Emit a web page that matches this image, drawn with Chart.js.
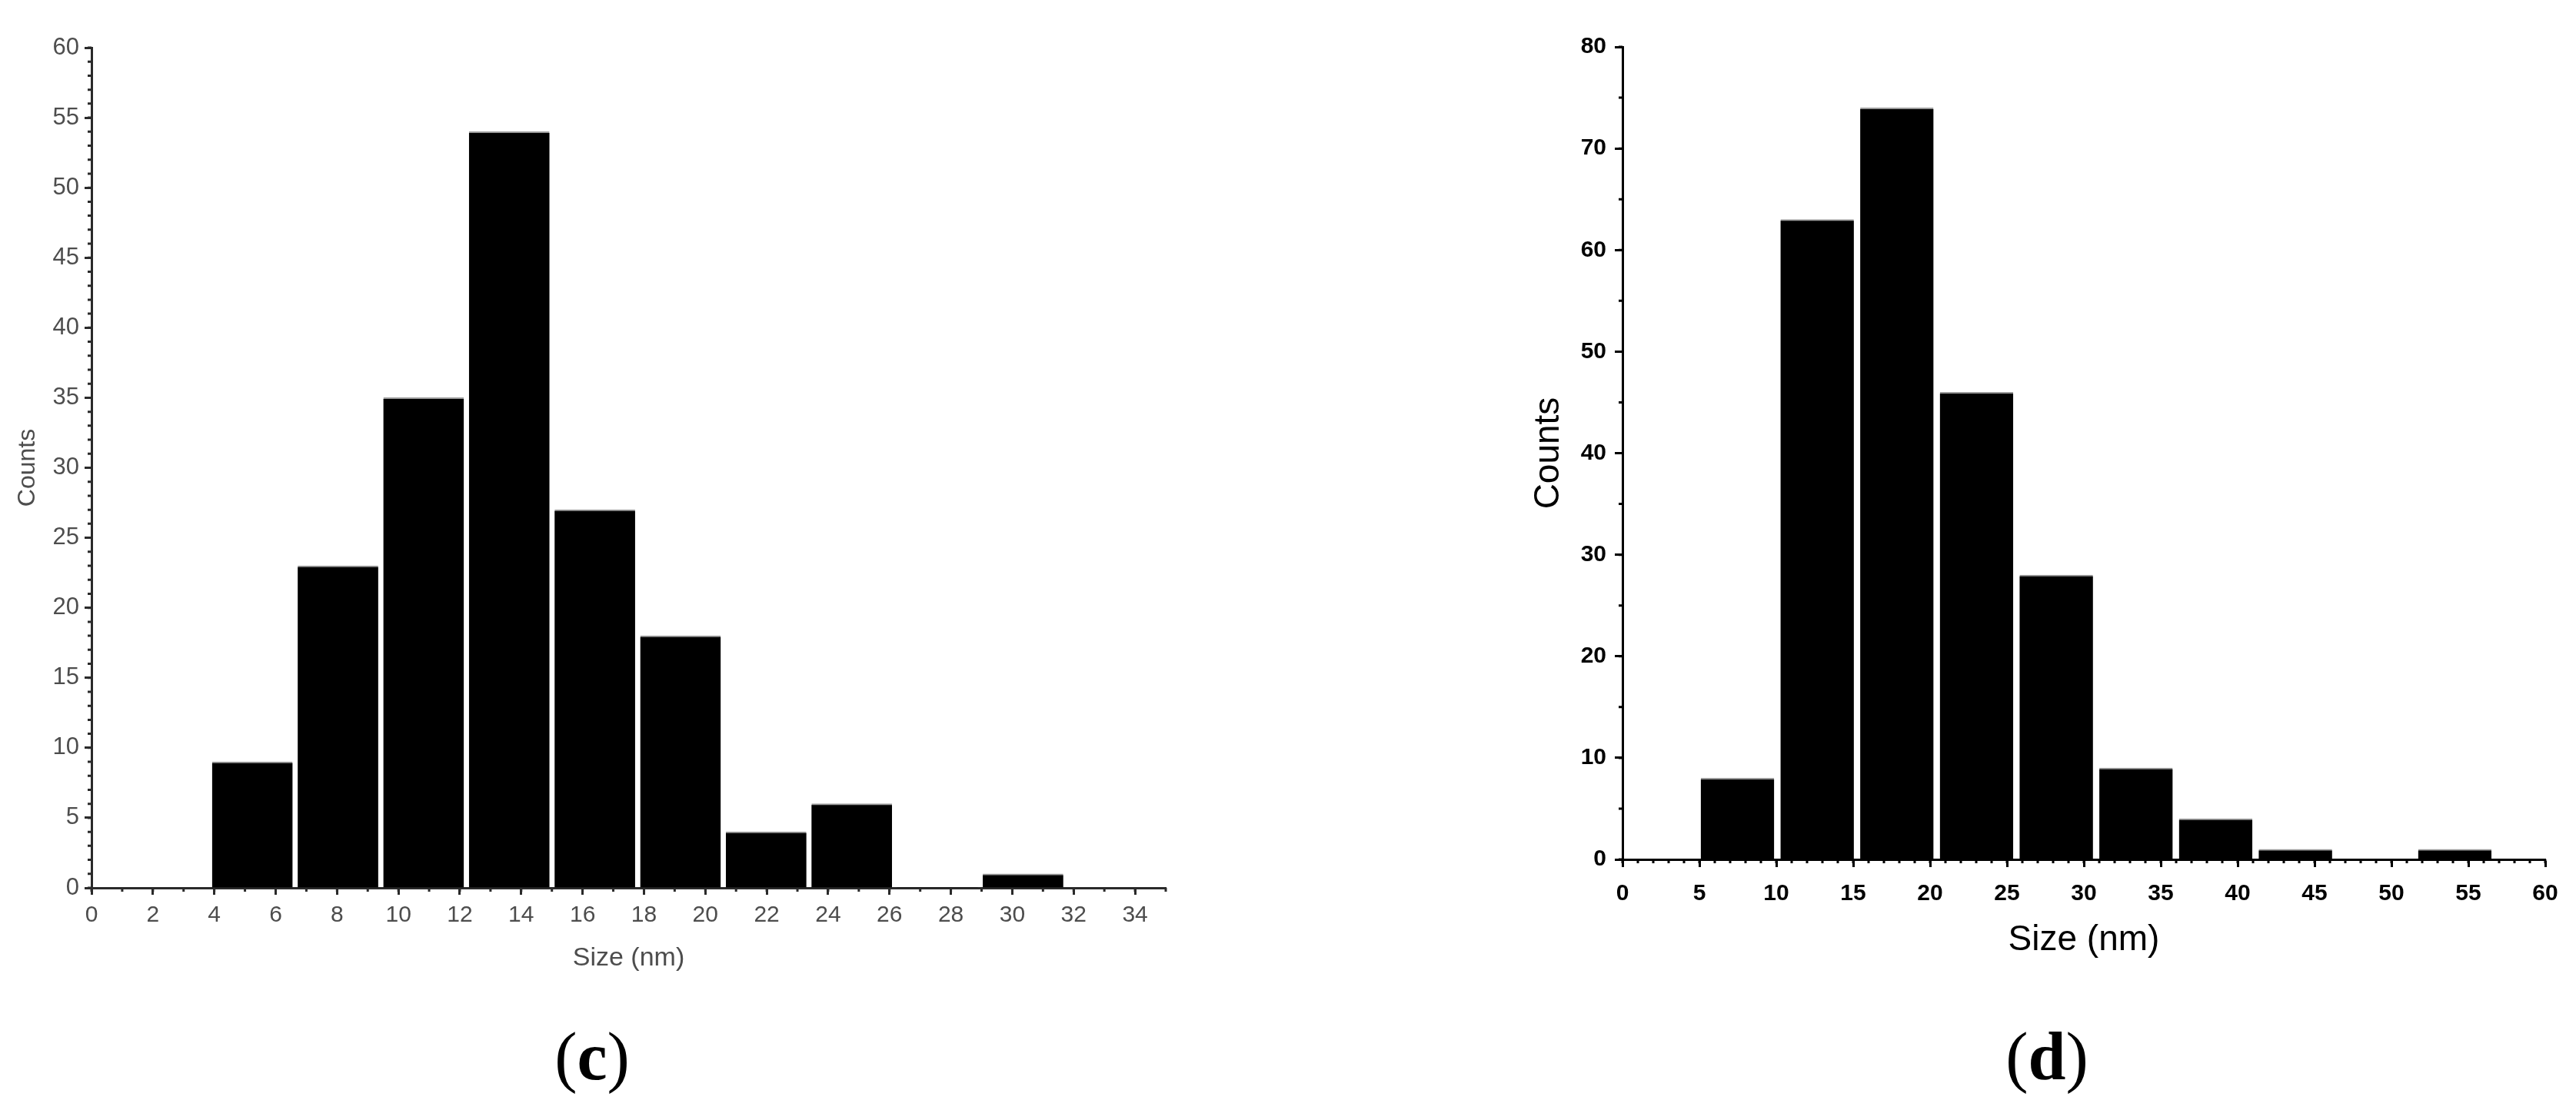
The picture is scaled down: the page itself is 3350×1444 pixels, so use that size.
<!DOCTYPE html>
<html><head><meta charset="utf-8">
<script src="https://cdn.jsdelivr.net/npm/chart.js@4.4.1/dist/chart.umd.min.js"></script>
<style>
html,body{margin:0;padding:0;background:#fff;}
body{width:3350px;height:1444px;position:relative;overflow:hidden;}
canvas{position:absolute;top:0;}
#cvC{left:0;}
#cvD{left:1700px;}
.panel{position:absolute;top:1331px;font-family:'Liberation Serif','Times New Roman',serif;font-size:88px;line-height:88px;color:#000;transform:translateX(-50%);white-space:nowrap;}
.panel b{font-weight:bold;}
</style></head>
<body>
<canvas id="cvC" width="1700" height="1300"></canvas>
<canvas id="cvD" width="1650" height="1300"></canvas>
<div class="panel" style="left:770px">(<b>c</b>)</div>
<div class="panel" style="left:2662px">(<b>d</b>)</div>
<script>
// ---- Panel (c) data ----
const binEdgesC = [3.845, 6.635, 9.425, 12.215, 15.005, 17.795, 20.585, 23.375, 26.165, 28.955, 31.745];
const countsC   = [9, 23, 35, 54, 27, 18, 4, 6, 0, 1];
const xTicksC   = [0, 2, 4, 6, 8, 10, 12, 14, 16, 18, 20, 22, 24, 26, 28, 30, 32, 34];
const yTicksC   = [0, 5, 10, 15, 20, 25, 30, 35, 40, 45, 50, 55, 60];

// ---- Panel (d) data ----
const binEdgesD = [4.88, 10.07, 15.25, 20.43, 25.61, 30.80, 35.98, 41.16, 46.35, 51.53, 56.71];
const countsD   = [8, 63, 74, 46, 28, 9, 4, 1, 0, 1];
const xTicksD   = [0, 5, 10, 15, 20, 25, 30, 35, 40, 45, 50, 55, 60];
const yTicksD   = [0, 10, 20, 30, 40, 50, 60, 70, 80];

const xLabel = 'Size (nm)';
const yLabel = 'Counts';

Chart.defaults.font.family = "'Liberation Sans', Arial, sans-serif";

const minorTicks = {
  id: 'minorTicks',
  afterDraw(chart, args, opts) {
    const ctx = chart.ctx;
    ctx.save();
    ctx.strokeStyle = opts.color;
    ctx.lineWidth = opts.width;
    ['x', 'y'].forEach(axis => {
      const o = opts[axis];
      if (!o) return;
      const s = chart.scales[axis];
      ctx.beginPath();
      for (let v = s.min; v <= s.max + 1e-9; v += o.step) {
        const p = s.getPixelForValue(v);
        if (axis === 'x') { ctx.moveTo(p, s.top); ctx.lineTo(p, s.top + o.len); }
        else { ctx.moveTo(s.right - o.len, p); ctx.lineTo(s.right, p); }
      }
      ctx.stroke();
    });
    ctx.restore();
  }
};

function histPoints(edges, counts) {
  return counts.map((c, i) => ({ x: (edges[i] + edges[i + 1]) / 2, y: c }));
}

function makeChart(id, p) {
  return new Chart(document.getElementById(id), {
    type: 'bar',
    data: {
      datasets: [{
        data: histPoints(p.edges, p.counts),
        backgroundColor: '#000',
        borderColor: '#9a9a9a',
        borderWidth: { top: 2, left: 0, right: 0, bottom: 0 },
        borderSkipped: false,
        barThickness: 'flex',
        categoryPercentage: 1,
        barPercentage: p.barPct
      }]
    },
    plugins: [minorTicks],
    options: {
      responsive: false,
      animation: false,
      events: [],
      layout: { padding: p.padding },
      plugins: {
        legend: { display: false },
        tooltip: { enabled: false },
        minorTicks: p.minor
      },
      scales: {
        x: {
          type: 'linear', min: p.xMin, max: p.xMax, offset: false,
          afterBuildTicks: s => { s.ticks = p.xTicks.map(v => ({ value: v })); },
          afterFit: s => { s.height = p.xHeight; },
          grid: { offset: false, drawOnChartArea: false, drawTicks: true, tickLength: p.tickLen, tickWidth: 3, tickColor: p.axisColor },
          border: { display: true, color: p.axisColor, width: 3 },
          ticks: { color: p.textColor, font: { size: p.xTickSize, weight: p.tickWeight }, padding: p.xTickPad, maxRotation: 0, autoSkip: false },
          title: { display: true, text: xLabel, color: p.textColor, font: { size: p.xTitleSize }, padding: { top: 0, bottom: p.xTitlePad } }
        },
        y: {
          type: 'linear', min: p.yMin, max: p.yMax,
          afterBuildTicks: s => { s.ticks = p.yTicks.map(v => ({ value: v })); },
          afterFit: s => { s.width = p.yWidth; },
          grid: { drawOnChartArea: false, drawTicks: true, tickLength: p.tickLen, tickWidth: 3, tickColor: p.axisColor },
          border: { display: true, color: p.axisColor, width: 3 },
          ticks: { color: p.textColor, font: { size: p.yTickSize, weight: p.tickWeight }, padding: p.yTickPad, autoSkip: false },
          title: { display: true, text: yLabel, color: p.textColor, font: { size: p.yTitleSize }, padding: { top: p.yTitlePad, bottom: 0 } }
        }
      }
    }
  });
}

makeChart('cvC', {
  edges: binEdgesC, counts: countsC, xTicks: xTicksC, yTicks: yTicksC,
  xMin: 0, xMax: 35, yMin: 0, yMax: 60, barPct: 0.94,
  padding: { left: 0, right: 184, top: 62, bottom: 0 },
  xHeight: 145, yWidth: 119,
  axisColor: '#2a2a2a', textColor: '#4d4d4d', tickWeight: 'normal',
  tickLen: 9, xTickSize: 30, yTickSize: 31, xTickPad: 9, yTickPad: 7,
  xTitleSize: 34, yTitleSize: 32, xTitlePad: 33, yTitlePad: 17,
  minor: { color: '#2a2a2a', width: 3, x: { step: 1, len: 5 }, y: { step: 1, len: 5 } }
});

makeChart('cvD', {
  edges: binEdgesD, counts: countsD, xTicks: xTicksD, yTicks: yTicksD,
  xMin: 0, xMax: 60, yMin: 0, yMax: 80, barPct: 0.92,
  padding: { left: 260, right: 40, top: 61, bottom: 0 },
  xHeight: 182, yWidth: 150,
  axisColor: '#000', textColor: '#000', tickWeight: 'bold',
  tickLen: 10, xTickSize: 30, yTickSize: 30, xTickPad: 17, yTickPad: 11,
  xTitleSize: 46, yTitleSize: 46, xTitlePad: 49, yTitlePad: 27,
  minor: { color: '#000', width: 3, x: { step: 1, len: 5 }, y: { step: 5, len: 5 } }
});
</script>
</body></html>
